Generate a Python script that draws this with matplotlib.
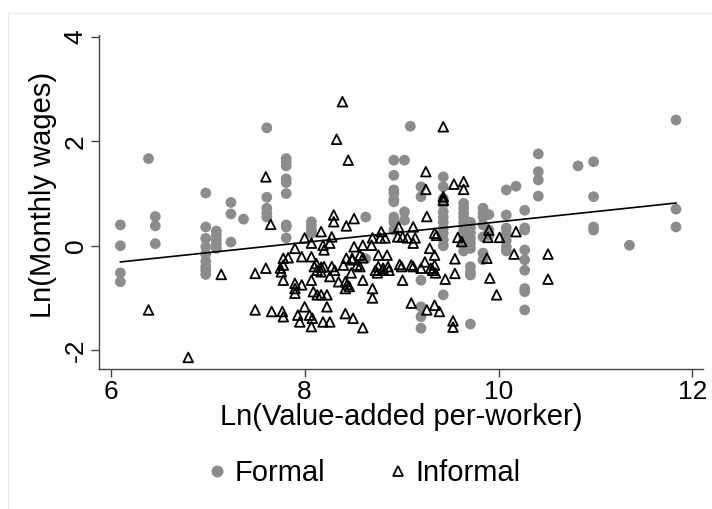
import numpy as np
import matplotlib.pyplot as plt
from matplotlib.lines import Line2D

plt.rcParams["font.family"] = ["Liberation Sans", "DejaVu Sans"]

# Formal firms: one entry per industry column (x) with the wages seen at that x
formal_cols = [6.10, 6.39, 6.46, 6.98, 7.09, 7.24, 7.37, 7.61, 7.81, 8.07,
               8.63, 8.92, 9.03, 9.09, 9.20, 9.43, 9.64, 9.71, 9.84, 9.90,
               10.08, 10.18, 10.27, 10.41, 10.82, 10.98, 11.35, 11.83]
formal_vals = [
    [0.40, 0.00, -0.52, -0.69],
    [1.67],
    [0.56, 0.38, 0.04],
    [1.01, 0.36, 0.14, -0.02, -0.16, -0.30, -0.40, -0.47, -0.55],
    [0.28, 0.20, 0.11, 0.03, -0.05],
    [0.83, 0.61, 0.07],
    [0.51],
    [2.26, 0.93, 0.72, 0.62, 0.55],
    [1.67, 1.60, 1.53, 1.28, 1.21, 1.00, 0.40, 0.36, 0.15],
    [0.46, 0.38, 0.30, 0.24],
    [0.55, -0.25],
    [1.64, 1.35, 1.07, 1.00, 0.88, 0.84, 0.55, 0.45, 0.30],
    [1.64, 0.65, 0.49],
    [2.29],
    [1.13, 0.94, -0.66, -1.17, -1.36, -1.58],
    [1.32, 1.13, 0.90, 0.80, 0.65, 0.55, 0.45, 0.33, 0.24, 0.12, 0.00, -0.94],
    [0.81, 0.72, 0.63, 0.54, 0.45, 0.36, 0.27, 0.18, 0.09, 0.00, -0.10],
    [0.45, 0.35, 0.25, 0.15, 0.05, -0.05, -0.40, -0.50, -0.56, -1.50],
    [0.72, 0.62, 0.55, 0.40, 0.17, -0.14, -0.27],
    [0.60, 0.30, 0.20],
    [1.07, 0.59, 0.34, 0.24, 0.10, -0.02, -0.10],
    [1.14],
    [0.68, 0.34, 0.30, -0.08, -0.27, -0.47, -0.82, -0.88, -1.23],
    [1.76, 1.42, 1.26, 0.95],
    [1.53],
    [1.61, 0.94, 0.36, 0.30],
    [0.01],
    [2.41, 0.70, 0.36],
]

# Informal firms (x, y)
informal_x = [
    6.39, 6.80, 7.14, 7.49, 7.49,
    7.60, 7.65, 7.60, 7.75, 7.76, 7.78, 7.78, 7.78, 7.66, 7.77, 7.78,
    7.83, 7.90, 7.90, 7.90, 7.90, 7.97, 7.97, 7.93, 7.95,
    8.00, 8.07, 8.17, 8.07, 8.12, 8.17, 8.19, 8.20, 8.10, 8.13, 8.17, 8.07,
    8.09, 8.13, 8.17, 8.00, 8.05, 8.08, 8.19, 8.07,
    8.30, 8.30, 8.43, 8.28, 8.26, 8.28, 8.40, 8.43, 8.20, 8.26, 8.31, 8.35,
    8.23, 8.42, 8.42, 8.23, 8.26, 8.42, 8.33, 8.39, 8.45, 8.44, 8.46,
    8.51, 8.51, 8.60, 8.69, 8.57, 8.60, 8.49, 8.49, 8.54, 8.57, 8.60, 8.48,
    8.50, 8.60, 8.70, 8.70, 8.70, 8.73, 8.75,
    8.79, 8.78, 8.83, 8.76, 8.85, 8.76, 8.81, 8.86, 8.80, 8.87, 8.97, 8.96, 8.98,
    9.01, 9.06, 9.12, 9.14, 9.12, 9.26, 9.10, 9.12, 9.24, 9.29, 9.01, 9.00,
    9.20, 9.30, 9.10, 9.26, 9.25, 9.25,
    9.34, 9.36, 9.34, 9.35, 9.34, 9.32, 9.34, 9.39, 9.43, 9.43, 9.43,
    9.45, 9.55, 9.55, 9.53, 9.53, 9.54, 9.58,
    9.62, 9.64, 9.64, 9.90, 9.89, 10.01, 10.18, 10.16, 9.88, 9.91, 9.98,
    10.51, 10.51,
]
informal_y = [
    -1.23, -2.14, -0.55, -0.53, -1.23,
    1.32, 0.41, -0.43, -0.43, -0.50, -0.24, -0.37, -0.66, -1.26, -1.26, -1.36,
    -0.23, -0.05, -0.72, -0.82, -0.91, -0.21, -0.75, -1.33, -1.46,
    0.15, 0.05, 0.27, -0.21, -0.34, -0.41, 0.01, -0.08, -0.40, -0.47, -0.50, -0.66,
    -0.88, -0.94, -0.94, -1.17, -1.33, -1.39, -1.46, -1.55,
    0.59, 0.46, 0.38, 0.17, 0.05, -0.40, -0.37, -0.24, -0.40, -0.59, -0.47, -0.69,
    -0.94, -0.69, -0.82, -1.17, -1.46, -1.30, 2.04, 2.76, 1.64, -0.74, -0.78,
    0.52, -0.02, 0.01, 0.01, -0.18, -0.23, -0.24, -0.27, -0.37, -0.40, -0.66, -0.52,
    -1.39, -1.57, 0.15, -0.82, -1.00, -0.47, -0.52,
    0.27, 0.15, 0.15, -0.18, -0.18, -0.40, -0.43, -0.40, -0.47, -0.47, 0.36, 0.17, -0.36,
    0.17, 0.15, 0.36, 0.15, 0.05, 0.56, -0.37, -0.40, -0.31, -0.05, -0.66, -0.40,
    -0.43, -0.43, -1.10, -1.23, 1.42, 1.08,
    0.24, 0.20, -0.37, -0.52, -0.18, -0.47, -1.14, -1.26, 2.28, 0.94, 0.87,
    -0.64, -0.53, -0.25, -1.44, -1.56, 1.18, 0.16,
    0.08, 1.23, 1.08, 0.30, 0.16, 0.16, 0.27, -0.16, -0.24, -0.62, -0.94,
    -0.16, -0.64,
]

# fitted line
fit_intercept = -1.512
fit_slope = 0.197

formal_x = [x for x, ys in zip(formal_cols, formal_vals) for _ in ys]
formal_y = [y for ys in formal_vals for y in ys]

fig = plt.figure(figsize=(7.12, 5.09), dpi=100)
ax = fig.add_axes([0.139, 0.275, 0.848, 0.656])

gray = "#8c8c8c"
ax.scatter(formal_x, formal_y, s=60, color=gray, edgecolors="none", zorder=2)
ax.scatter(informal_x, informal_y, s=48, marker="^", facecolors="none",
           edgecolors="black", linewidths=1.3, zorder=3)

xmin = min(formal_x + informal_x)
xmax = max(formal_x + informal_x)
xl = np.array([xmin, xmax])
ax.plot(xl, fit_intercept + fit_slope * xl, color="black", lw=1.2, zorder=4)

ax.set_xlim(5.879, 12.106)
ax.set_ylim(-2.362, 4.036)
ax.set_xticks([6, 8, 10, 12])
ax.set_yticks([-2, 0, 2, 4])
ax.set_yticklabels(["-2", "0", "2", "4"], rotation=90, va="center")
for s in ["top", "right"]:
    ax.spines[s].set_visible(False)
for s in ["left", "bottom"]:
    ax.spines[s].set_color("#444444")
    ax.spines[s].set_linewidth(1.0)
ax.tick_params(axis="both", length=6, width=1, color="#444444",
               labelsize=19, pad=2)
ax.set_xlabel("Ln(Value-added per-worker)", fontsize=21, labelpad=-1)
ax.set_ylabel("Ln(Monthly wages)", fontsize=21)
ax.yaxis.set_label_coords(-0.07, 0.52)

handles = [
    Line2D([], [], marker="o", ls="none", color=gray, markersize=7.6),
    Line2D([], [], marker="^", ls="none", markerfacecolor="none",
           markeredgecolor="black", markeredgewidth=1.3, markersize=7),
]
fig.legend(handles, ["Formal", "Informal"], loc="center",
           bbox_to_anchor=(0.508, 0.071), ncol=2, frameon=False,
           fontsize=21, handletextpad=0.1, columnspacing=2.0,
           handlelength=1.0)

# faint outer graph-region frame (left and top edges visible)
fig.add_artist(Line2D([0.011, 0.011], [0.0, 0.975], color="#ececec", lw=1.0,
                      transform=fig.transFigure))
fig.add_artist(Line2D([0.011, 1.0], [0.975, 0.975], color="#ececec", lw=1.0,
                      transform=fig.transFigure))

fig.savefig("out.png", dpi=100, facecolor="white")
